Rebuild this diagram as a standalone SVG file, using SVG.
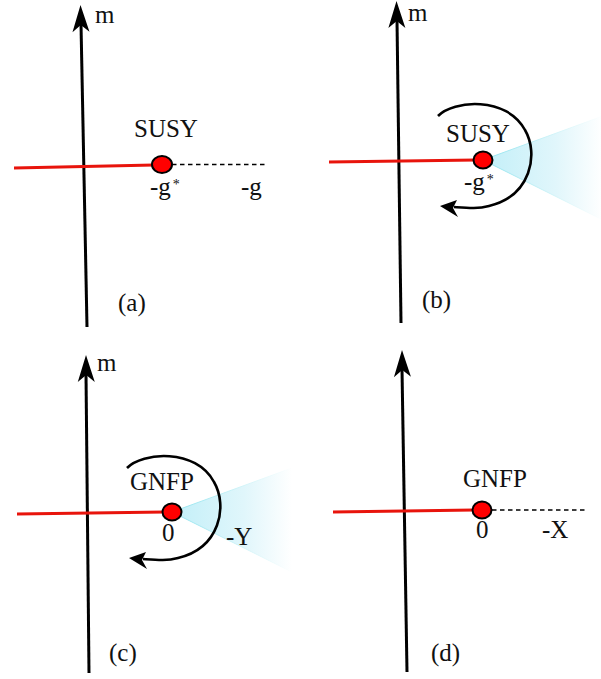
<svg xmlns="http://www.w3.org/2000/svg" width="601" height="679" viewBox="0 0 601 679">
<style>
.t{font-family:"Liberation Serif","Times New Roman",serif;font-size:25px;fill:#111}
.sup{font-size:14px}
.axis{stroke:#000;stroke-width:3;fill:none}
.red{stroke:#e8140c;stroke-width:3;fill:none}
.dash{stroke:#000;stroke-width:1.5;stroke-dasharray:4.5 3.5;fill:none}
.dot{fill:#f00;stroke:#000;stroke-width:2}
.arc{stroke:#000;stroke-width:2.6;fill:none}
</style>
<defs>
<linearGradient id="coneG" x1="0" y1="0" x2="1" y2="0">
<stop offset="0" stop-color="#c2eff8"/>
<stop offset="0.6" stop-color="#e0f6fb"/>
<stop offset="1" stop-color="#ffffff"/>
</linearGradient>
<linearGradient id="coneE" x1="0" y1="0" x2="1" y2="0">
<stop offset="0" stop-color="#8fe3ee"/>
<stop offset="1" stop-color="#ffffff"/>
</linearGradient>
<path id="axHead" d="M0,0 L8.5,27 L0,20 L-8.5,27 Z" fill="#000"/>
<g id="cone">
<path d="M0,0 L120,-44 L120,60 Z" fill="url(#coneG)"/>
<path d="M0,0 L120,-44 M0,0 L120,60" stroke="url(#coneE)" stroke-width="1" fill="none"/>
</g>
<g id="rot">
<path class="arc" d="M-45,-44 C-30,-60 24,-64 42,-30 C56,-6 48,36 6,46 C-5,49 -15,48 -29,47"/>
<path d="M-43,46 L-26,40 L-30,48 L-25,57 Z" fill="#000"/>
</g>
</defs>

<g id="connectors">
<!-- panel a -->
<line class="axis" x1="87" y1="327" x2="81" y2="24"/>
<use href="#axHead" transform="translate(80.5,5) rotate(-1)"/>
<line class="red" x1="14" y1="168" x2="154" y2="165"/>
<line class="dash" x1="172" y1="164.5" x2="266" y2="164.5"/>
<!-- panel b -->
<line class="axis" x1="401" y1="323" x2="397" y2="20"/>
<use href="#axHead" transform="translate(396.5,1) rotate(-0.8)"/>
<line class="red" x1="329" y1="162" x2="476" y2="160"/>
<!-- panel c -->
<line class="axis" x1="89" y1="673" x2="86" y2="374"/>
<use href="#axHead" transform="translate(86,355) rotate(-0.6)"/>
<line class="red" x1="17" y1="514" x2="165" y2="512"/>
<!-- panel d -->
<line class="axis" x1="407" y1="672" x2="402" y2="369"/>
<use href="#axHead" transform="translate(402,350) rotate(-0.9)"/>
<line class="red" x1="333" y1="512" x2="474" y2="510"/>
<line class="dash" x1="492" y1="510" x2="587" y2="510"/>
</g>

<g id="panel-a">
<text class="t" x="95" y="23">m</text>
<g id="susy-a">
<ellipse class="dot" cx="162" cy="164.5" rx="10" ry="8.5"/>
<text class="t" x="134" y="137">SUSY</text>
<text class="t" x="150" y="195">-g<tspan class="sup" dx="2" dy="-6">*</tspan></text>
</g>
<text class="t" x="241" y="195">-g</text>
<text class="t" x="118" y="311">(a)</text>
</g>

<g id="panel-b">
<text class="t" x="408" y="21">m</text>
<g id="susy-b">
<use href="#cone" x="483" y="160"/>
<use href="#rot" x="483" y="160"/>
<ellipse class="dot" cx="483" cy="160" rx="9.5" ry="8.5"/>
<text class="t" x="446" y="142">SUSY</text>
<text class="t" x="464" y="190">-g<tspan class="sup" dx="2" dy="-6">*</tspan></text>
</g>
<text class="t" x="422" y="308">(b)</text>
</g>

<g id="panel-c">
<text class="t" x="97" y="371">m</text>
<g id="gnfp-c">
<use href="#cone" x="172" y="512"/>
<use href="#rot" x="172" y="512"/>
<ellipse class="dot" cx="172" cy="512" rx="9.5" ry="8.5"/>
<text class="t" x="130" y="490">GNFP</text>
<text class="t" x="162" y="541">0</text>
</g>
<text class="t" x="226" y="545">-Y</text>
<text class="t" x="109" y="661">(c)</text>
</g>

<g id="panel-d">
<g id="gnfp-d">
<ellipse class="dot" cx="482" cy="510" rx="9.5" ry="8.5"/>
<text class="t" x="463" y="487">GNFP</text>
<text class="t" x="476" y="538">0</text>
</g>
<text class="t" x="542" y="538">-X</text>
<text class="t" x="431" y="661">(d)</text>
</g>
</svg>
